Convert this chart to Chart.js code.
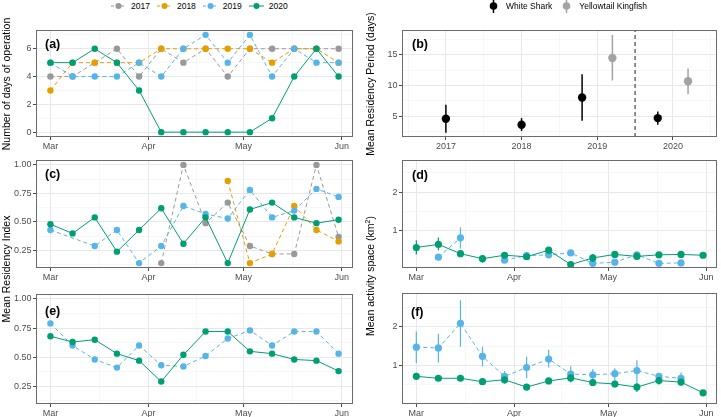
<!DOCTYPE html>
<html>
<head>
<meta charset="utf-8">
<script src="https://cdn.jsdelivr.net/npm/chart.js@4.4.1/dist/chart.umd.min.js"></script>
<style>
  body { margin: 0; background: #fff; font-family: "Liberation Sans", Arial, sans-serif; }
  #wrap { position: relative; width: 721px; height: 417px; overflow: hidden; background: #fff; }
  #wrap canvas { position: absolute; }
  .ytitle { position: absolute; transform: translate(-50%, -50%) rotate(-90deg); white-space: nowrap; font-size: 10.5px; color: #000; line-height: 12px; }
  .ytitle sup { font-size: 7px; line-height: 0; }
  .tag { position: absolute; font-weight: bold; font-size: 12.5px; color: #000; line-height: 14px; }
  .legend { position: absolute; top: 0; height: 12px; display: flex; align-items: center; font-size: 8.5px; color: #000; white-space: nowrap; }
  .legend .item { display: flex; align-items: center; }
  .legend svg { display: block; }
</style>
</head>
<body>
<div id="wrap">
  <canvas id="chartA"></canvas>
  <canvas id="chartB"></canvas>
  <canvas id="chartC"></canvas>
  <canvas id="chartD"></canvas>
  <canvas id="chartE"></canvas>
  <canvas id="chartF"></canvas>

  <div id="legendYears" class="legend" style="left:111px;"></div>
  <div id="legendSpecies" class="legend" style="left:485px;"></div>

  <div class="ytitle" style="left:5.5px; top:84px;">Number of days of operation</div>
  <div class="ytitle" style="left:5.5px; top:269px;">Mean Residency Index</div>
  <div class="ytitle" style="left:370px; top:84px;">Mean Residency Period (days)</div>
  <div class="ytitle" style="left:370px; top:276px;">Mean activity space (km<sup>2</sup>)</div>

  <div class="tag" style="left:45px; top:37px;">(a)</div>
  <div class="tag" style="left:412px; top:37px;">(b)</div>
  <div class="tag" style="left:45px; top:167px;">(c)</div>
  <div class="tag" style="left:412px; top:168px;">(d)</div>
  <div class="tag" style="left:45px; top:304px;">(e)</div>
  <div class="tag" style="left:411px; top:305px;">(f)</div>
</div>

<script>
// weekly sampling dates (month-day) and month ticks
const weekDates = ['03-01', '03-08', '03-15', '03-22', '03-29', '04-05', '04-12',
                   '04-19', '04-26', '05-03', '05-10', '05-17', '05-24', '05-31'];
const monthStarts = ['03-01', '04-01', '05-01', '06-01'];
const monthLabels = ['Mar', 'Apr', 'May', 'Jun'];

const years = ['2017', '2018', '2019', '2020'];
const yearColors = ['#999999', '#E69F00', '#56B4E9', '#009E73'];

// (a) number of days of operation per week
const opDays2017 = [4, 4, 5, 6, 4, 6, 5, 6, 4, 6, 6, 6, 6, 6];
const opDays2018 = [3, 5, 5, 5, 5, 6, 6, 6, 6, 6, 5, 6, 6, 5];
const opDays2019 = [5, 4, 4, 4, 5, 4, 6, 7, 5, 7, 4, 6, 5, 5];
const opDays2020 = [5, 5, 6, 5, 3, 0, 0, 0, 0, 0, 1, 4, 6, 4];

// (b) mean residency period (days)
const periodYears = [2017, 2018, 2019, 2020];
const sharkPeriod = [4.57, 3.59, 8.04, 4.67];
const sharkPeriodLo = [2.28, 2.55, 4.24, 3.59];
const sharkPeriodHi = [6.85, 4.67, 11.85, 5.76];
const kingfishPeriod = [null, null, 14.51, 10.71];
const kingfishPeriodLo = [null, null, 10.82, 8.59];
const kingfishPeriodHi = [null, null, 18.26, 12.77];
const dividerYear = 2019.5;
const speciesNames = ['White Shark', 'Yellowtail Kingfish'];
const speciesColors = ['#000000', '#a3a3a3'];

// (c) residency index, white shark
const resIdx2017 = [null, null, null, null, null, 0.14, 1.00, 0.49, 0.67, 0.29, 0.22, 0.22, 1.00, 0.37];
const resIdx2018 = [null, null, null, null, null, null, null, null, 0.86, 0.14, 0.22, 0.64, 0.43, 0.33];
const resIdx2019 = [0.43, null, 0.29, 0.43, 0.14, 0.29, 0.64, 0.57, 0.53, 0.78, 0.54, 0.60, 0.79, 0.72];
const resIdx2020 = [0.48, 0.40, 0.54, 0.24, 0.43, 0.62, 0.31, 0.54, 0.14, 0.61, 0.67, 0.54, 0.49, 0.52];

// (e) mean residency index, kingfish
const meanRes2019 = [0.79, 0.60, 0.48, 0.41, 0.60, 0.43, 0.42, 0.51, 0.66, 0.73, 0.60, 0.72, 0.72, 0.53];
const meanRes2020 = [0.68, 0.63, 0.65, 0.53, 0.47, 0.29, 0.52, 0.72, 0.72, 0.55, 0.53, 0.48, 0.47, 0.38];

// (d) mean activity space (km2), white shark
const sharkArea2019 = [null, 0.32, 0.82, null, 0.24, 0.36, 0.38, 0.43, 0.16, 0.19, 0.38, 0.16, 0.17, null];
const sharkArea2019Lo = [null, 0.29, 0.54, null, 0.21, 0.33, 0.34, 0.40, 0.14, 0.16, 0.33, 0.14, 0.15, null];
const sharkArea2019Hi = [null, 0.35, 1.09, null, 0.27, 0.40, 0.43, 0.47, 0.19, 0.22, 0.45, 0.19, 0.20, null];
const sharkArea2020 = [0.57, 0.65, 0.41, 0.28, 0.37, 0.33, 0.50, 0.13, 0.30, 0.39, 0.34, 0.38, 0.39, 0.37];
const sharkArea2020Lo = [0.39, 0.50, 0.37, 0.18, 0.33, 0.29, 0.46, 0.11, 0.20, 0.33, 0.25, 0.35, 0.35, 0.33];
const sharkArea2020Hi = [0.76, 0.83, 0.46, 0.38, 0.42, 0.38, 0.55, 0.16, 0.40, 0.46, 0.45, 0.42, 0.44, 0.42];

// (f) mean activity space (km2), kingfish
const fishArea2019 = [1.47, 1.45, 2.09, 1.23, 0.71, 0.94, 1.16, 0.77, 0.75, 0.78, 0.86, 0.71, 0.66, null];
const fishArea2019Lo = [1.06, 1.07, 1.48, 0.97, 0.55, 0.66, 0.94, 0.55, 0.59, 0.59, 0.57, 0.62, 0.51, null];
const fishArea2019Hi = [1.88, 1.82, 2.69, 1.48, 0.85, 1.22, 1.40, 0.97, 0.90, 0.92, 1.13, 0.80, 0.81, null];
const fishArea2020 = [0.71, 0.66, 0.66, 0.57, 0.62, 0.43, 0.59, 0.67, 0.55, 0.51, 0.43, 0.60, 0.56, 0.28];
const fishArea2020Lo = [0.64, 0.62, 0.62, 0.52, 0.52, 0.38, 0.53, 0.57, 0.49, 0.45, 0.30, 0.50, 0.47, 0.24];
const fishArea2020Hi = [0.78, 0.70, 0.70, 0.62, 0.70, 0.48, 0.65, 0.76, 0.61, 0.57, 0.55, 0.70, 0.64, 0.32];

// ---- helpers ----
const dayOf = md => {
    const [m, d] = md.split('-').map(Number);
    return (Date.UTC(2021, m - 1, d) - Date.UTC(2021, 2, 1)) / 864e5;
};
const weekX = weekDates.map(dayOf);
const monthX = monthStarts.map(dayOf);
const monthMinorX = monthX.slice(1).map((v, i) => (v + monthX[i]) / 2);

Chart.defaults.font.family = '"Liberation Sans", Arial, sans-serif';
Chart.defaults.font.size = 9;
Chart.defaults.color = '#4d4d4d';

const DASH = [4, 3];

// panel outline drawn on top, like a ggplot panel border
const panelBorder = {
    id: 'panelBorder',
    afterDraw(chart) {
        const { ctx, chartArea: a } = chart;
        ctx.save();
        ctx.strokeStyle = '#6b6b6b';
        ctx.lineWidth = 1;
        ctx.strokeRect(Math.round(a.left) + 0.5, Math.round(a.top) + 0.5,
                       Math.round(a.right - a.left) - 1, Math.round(a.bottom - a.top) - 1);
        ctx.restore();
    }
};

// vertical error bars from dataset.errLo / dataset.errHi, drawn under the points
const errorBars = {
    id: 'errorBars',
    beforeDatasetDraw(chart, args) {
        const ds = chart.data.datasets[args.index];
        if (!ds.errLo) return;
        const yScale = chart.scales.y;
        const ctx = chart.ctx;
        ctx.save();
        ctx.strokeStyle = ds.errColor || ds.borderColor;
        ctx.lineWidth = ds.errWidth || 1.2;
        args.meta.data.forEach((pt, i) => {
            if (ds.errLo[i] == null || ds.errHi[i] == null) return;
            ctx.beginPath();
            ctx.moveTo(pt.x, yScale.getPixelForValue(ds.errLo[i]));
            ctx.lineTo(pt.x, yScale.getPixelForValue(ds.errHi[i]));
            ctx.stroke();
        });
        ctx.restore();
    }
};

function tickList(majors, minors) {
    return majors.map(v => ({ value: v }))
        .concat(minors.map(v => ({ value: v, minor: true })))
        .sort((p, q) => p.value - q.value);
}

function gridOpts() {
    return {
        color: c => (c.tick && c.tick.minor) ? '#f4f4f4' : '#e8e8e8',
        lineWidth: c => (c.tick && c.tick.minor) ? 0.7 : 1,
        tickColor: c => (c.tick && c.tick.minor) ? 'rgba(0,0,0,0)' : '#4d4d4d',
        tickLength: 3,
        drawTicks: true
    };
}

function axis(min, max, majors, minors, labelFn, fixed, horizontal) {
    return {
        type: 'linear',
        min, max,
        grid: gridOpts(),
        border: { display: false },
        afterBuildTicks: s => { s.ticks = tickList(majors, minors); },
        afterFit: s => { if (horizontal) s.height = fixed; else s.width = fixed; },
        ticks: {
            autoSkip: false,
            maxRotation: 0,
            padding: horizontal ? 1 : 1.5,
            callback: (v, i, ticks) => ticks[i].minor ? '' : labelFn(v)
        }
    };
}

const dateAxis = () => axis(-4.55, 95.55, monthX, monthMinorX,
    v => monthLabels[monthX.indexOf(v)], 18, true);

function weekLine(label, values, color, dashed, extra) {
    return Object.assign({
        type: 'line',
        label,
        data: values.map((v, i) => ({ x: weekX[i], y: v })),
        borderColor: color,
        backgroundColor: color,
        pointBackgroundColor: color,
        pointBorderWidth: 0,
        pointRadius: 3.2,
        pointHoverRadius: 3.2,
        borderWidth: 1,
        borderDash: dashed ? DASH : [],
        spanGaps: false
    }, extra || {});
}

// place a canvas so its chart area lands on the given panel rectangle
function makePanel(id, box, yW, padR, datasets, scales) {
    const padT = 8, xH = 18;
    const cv = document.getElementById(id);
    const w = (box.R - box.L) + yW + padR;
    const h = (box.B - box.T) + padT + xH;
    cv.width = w; cv.height = h;
    cv.style.left = (box.L - yW) + 'px';
    cv.style.top = (box.T - padT) + 'px';
    cv.style.width = w + 'px';
    cv.style.height = h + 'px';
    return new Chart(cv, {
        type: 'line',
        data: { datasets },
        options: {
            responsive: false,
            animation: false,
            devicePixelRatio: 1,
            layout: { padding: { top: padT, right: padR, left: 0, bottom: 0 } },
            plugins: { legend: { display: false }, tooltip: { enabled: false } },
            scales
        },
        plugins: [errorBars, panelBorder]
    });
}

const boxes = {
    a: { L: 36, T: 30, R: 353, B: 137 },
    b: { L: 402, T: 30, R: 719, B: 137 },
    c: { L: 36, T: 160, R: 353, B: 268 },
    d: { L: 402, T: 160, R: 719, B: 268 },
    e: { L: 36, T: 294, R: 353, B: 404 },
    f: { L: 402, T: 293, R: 719, B: 404 }
};

// (a)
makePanel('chartA', boxes.a, 36, 8, [
    weekLine('2020', opDays2020, yearColors[3], false, { order: 1 }),
    weekLine('2019', opDays2019, yearColors[2], true, { order: 2 }),
    weekLine('2018', opDays2018, yearColors[1], true, { order: 3 }),
    weekLine('2017', opDays2017, yearColors[0], true, { order: 4 })
], {
    x: dateAxis(),
    y: axis(-0.35, 7.35, [0, 2, 4, 6], [1, 3, 5, 7], v => String(v), 36, false)
});

// (b)
const bothSpecies = periodYears.map((y, i) => sharkPeriod[i] != null && kingfishPeriod[i] != null);
const dodge = 0.2;
function speciesSet(label, vals, lo, hi, color, side) {
    return {
        type: 'line',
        label,
        data: vals.map((v, i) => ({ x: periodYears[i] + (bothSpecies[i] ? side * dodge : 0), y: v })),
        showLine: false,
        pointRadius: 4.2,
        pointHoverRadius: 4.2,
        pointBorderWidth: 0,
        pointBackgroundColor: color,
        borderColor: color,
        backgroundColor: color,
        errLo: lo, errHi: hi, errWidth: 1.5
    };
}
makePanel('chartB', boxes.b, 42, 2, [
    speciesSet(speciesNames[0], sharkPeriod, sharkPeriodLo, sharkPeriodHi, speciesColors[0], -1),
    speciesSet(speciesNames[1], kingfishPeriod, kingfishPeriodLo, kingfishPeriodHi, speciesColors[1], 1),
    {
        type: 'line',
        label: 'divider',
        data: [{ x: dividerYear, y: 1.58 }, { x: dividerYear, y: 19.08 }],
        borderColor: '#555555',
        borderWidth: 1.3,
        borderDash: [4, 3],
        pointRadius: 0
    }
], {
    x: axis(2016.42, 2020.58, periodYears, [2016.5, 2017.5, 2018.5, 2019.5, 2020.5], v => String(v), 18, true),
    y: axis(1.58, 19.08, [5, 10, 15], [2.5, 7.5, 12.5, 17.5], v => String(v), 42, false)
});

// (c)
makePanel('chartC', boxes.c, 36, 8, [
    weekLine('2020', resIdx2020, yearColors[3], false, { order: 1 }),
    weekLine('2019', resIdx2019, yearColors[2], true, { order: 2, spanGaps: true }),
    weekLine('2018', resIdx2018, yearColors[1], true, { order: 3 }),
    weekLine('2017', resIdx2017, yearColors[0], true, { order: 4 })
], {
    x: dateAxis(),
    y: axis(0.097, 1.043, [0.25, 0.5, 0.75, 1.0], [0.125, 0.375, 0.625, 0.875], v => v.toFixed(2), 36, false)
});

// (d)
makePanel('chartD', boxes.d, 42, 2, [
    weekLine('2020', sharkArea2020, yearColors[3], false, { order: 1, pointRadius: 3.6, errLo: sharkArea2020Lo, errHi: sharkArea2020Hi }),
    weekLine('2019', sharkArea2019, yearColors[2], true, { order: 2, pointRadius: 3.6, errLo: sharkArea2019Lo, errHi: sharkArea2019Hi })
], {
    x: dateAxis(),
    y: axis(0.04, 2.83, [1, 2], [0.5, 1.5, 2.5], v => String(v), 42, false)
});

// (e)
makePanel('chartE', boxes.e, 36, 8, [
    weekLine('2020', meanRes2020, yearColors[3], false, { order: 1 }),
    weekLine('2019', meanRes2019, yearColors[2], true, { order: 2 })
], {
    x: dateAxis(),
    y: axis(0.097, 1.043, [0.25, 0.5, 0.75, 1.0], [0.125, 0.375, 0.625, 0.875], v => v.toFixed(2), 36, false)
});

// (f)
makePanel('chartF', boxes.f, 42, 2, [
    weekLine('2020', fishArea2020, yearColors[3], false, { order: 1, pointRadius: 3.6, errLo: fishArea2020Lo, errHi: fishArea2020Hi }),
    weekLine('2019', fishArea2019, yearColors[2], true, { order: 2, pointRadius: 3.6, errLo: fishArea2019Lo, errHi: fishArea2019Hi })
], {
    x: dateAxis(),
    y: axis(-0.01, 2.88, [1, 2], [0.5, 1.5, 2.5], v => String(v), 42, false)
});

// ---- legends ----
const yearLegend = document.getElementById('legendYears');
years.forEach((y, i) => {
    const dash = i < 3 ? ' stroke-dasharray="3 2"' : '';
    yearLegend.insertAdjacentHTML('beforeend',
        `<div class="item" style="margin-right:7px">
           <svg width="15" height="8"><line x1="0" y1="4" x2="15" y2="4" stroke="${yearColors[i]}" stroke-width="1"${dash}/>
           <circle cx="7.5" cy="4" r="3" fill="${yearColors[i]}"/></svg>
           <span style="margin-left:5px">${y}</span></div>`);
});
const speciesLegend = document.getElementById('legendSpecies');
speciesNames.forEach((s, i) => {
    speciesLegend.insertAdjacentHTML('beforeend',
        `<div class="item" style="margin-right:6px">
           <svg width="17" height="14"><line x1="8.5" y1="0" x2="8.5" y2="14" stroke="${speciesColors[i]}" stroke-width="1.5"/>
           <circle cx="8.5" cy="7" r="3.8" fill="${speciesColors[i]}"/></svg>
           <span style="margin-left:4px">${s}</span></div>`);
});
</script>
</body>
</html>
